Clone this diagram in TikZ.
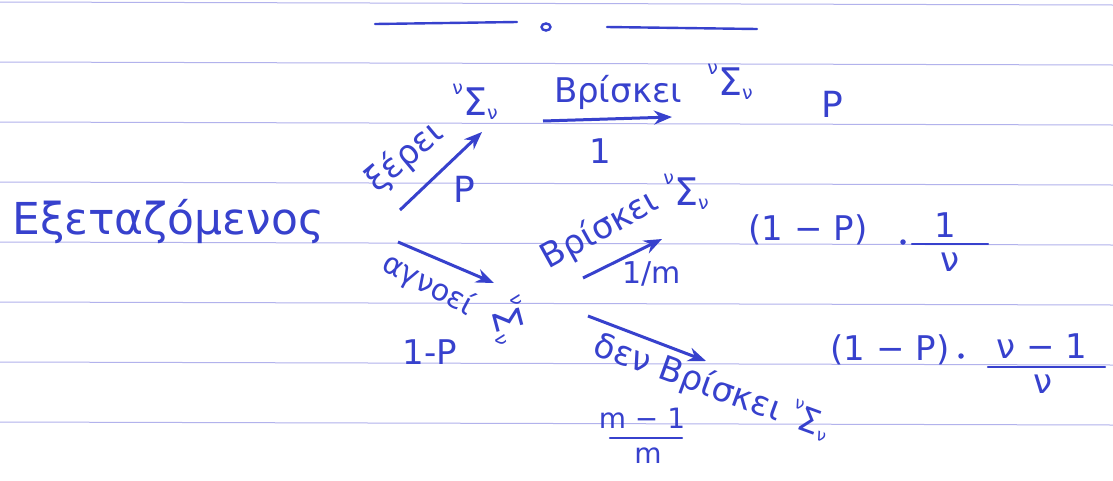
\documentclass[tikz,border=0pt]{standalone}
\usepackage{fontspec}
\setmainfont{DejaVu Sans}
\usetikzlibrary{arrows.meta,shapes.geometric}
\definecolor{ink}{RGB}{55,65,205}
\definecolor{paperrule}{RGB}{178,178,236}
\newcommand{\SigNu}{\raisebox{0.55em}{\scalebox{0.5}{ν}}Σ\raisebox{-0.1em}{\scalebox{0.5}{ν}}}
\begin{document}
\begin{tikzpicture}[x=1pt,y=-1pt,
  txt/.style={text=ink, inner sep=0pt, font=\fontsize{34}{36}\selectfont},
  sig/.style={text=ink, inner sep=0pt, font=\fontsize{38}{40}\selectfont},
  big/.style={text=ink, inner sep=0pt, font=\fontsize{44}{48}\selectfont},
  arr/.style={draw=ink, line width=3pt, -{Stealth[length=18pt,width=14pt]}},
  pen/.style={draw=ink, line width=2.4pt, line cap=round},
  times/.style={fill=ink, circle, inner sep=0pt, minimum size=5.5pt},
  ruling/.style={draw=paperrule, line width=1pt}]
\fill[white] (0,0) rectangle (1113,480);
\useasboundingbox (0,0) rectangle (1113,480);
% paper ruling
\foreach \k in {0,...,7} {
  \draw[ruling] (0,{2+60*\k}) -- (1113,{5+60*\k});
}
% heading marks
\coordinate (h1a) at (375,24); \coordinate (h1b) at (517,22);
\coordinate (h2a) at (607,27); \coordinate (h2b) at (757,29);
\draw[pen] (h1a) -- (h1b);
\draw[pen] (h2a) -- (h2b);
\node[draw=ink, line width=2.4pt, ellipse, minimum width=9pt, minimum height=7pt, inner sep=0pt] (hdot) at (546,27) {};
% root
\node[big] (root) at (168,222) {Εξεταζόμενος};
% branch: knows
\coordinate (k0) at (400,210); \coordinate (k1) at (482,132);
\draw[arr] (k0) -- (k1);
\node[txt, rotate=40] (knows) at (405,157) {ξέρει};
\node[sig] (knowsS) at (475,102) {\SigNu};
\node[txt, font=\fontsize{36}{38}\selectfont] (pk) at (464,189) {P};
% finds
\coordinate (f0) at (543,121); \coordinate (f1) at (672,117);
\draw[arr] (f0) -- (f1);
\node[txt] (finds) at (618,92) {Βρίσκει};
\node[sig] (findsS) at (730,82) {\SigNu};
\node[txt] (one) at (600,151) {1};
\node[txt, font=\fontsize{36}{38}\selectfont] (res1) at (832,104) {P};
% branch: does not know
\coordinate (u0) at (398,242); \coordinate (u1) at (494,283);
\draw[arr] (u0) -- (u1);
\node[txt, font=\fontsize{30}{32}\selectfont, rotate=-28] (ign) at (428,285) {αγνοεί};
\node[sig, rotate=-75] (ignS) at (508,320) {\SigNu};
\node[txt] (pu) at (430,352) {1-P};
% guessed right
\coordinate (g0) at (583,278); \coordinate (g1) at (662,239);
\draw[arr] (g0) -- (g1);
\node[txt, rotate=29] (guess) at (600,230) {Βρίσκει};
\node[sig] (guessS) at (686,192) {\SigNu};
\node[txt, font=\fontsize{30}{32}\selectfont] (pg) at (652,274) {1/m};
\node[txt] (res2a) at (808,230) {(1 − P)};
\node[times] (res2dot) at (903,242) {};
\node[txt] (res2n) at (945,225) {1};
\coordinate (r2l) at (912,244); \coordinate (r2r) at (988,244);
\draw[pen] (r2l) -- (r2r);
\node[txt] (res2d) at (950,262) {ν};
% guessed wrong
\coordinate (w0) at (588,316); \coordinate (w1) at (706,361);
\draw[arr] (w0) -- (w1);
\node[txt, rotate=-20] (wrong) at (712,387) {δεν Βρίσκει \SigNu};
\node[txt, font=\fontsize{28}{30}\selectfont] (pwn) at (642,418) {m − 1};
\coordinate (pwl) at (610,438); \coordinate (pwr) at (682,438);
\draw[pen] (pwl) -- (pwr);
\node[txt, font=\fontsize{28}{30}\selectfont] (pwd) at (648,456) {m};
\node[txt] (res3a) at (890,350) {(1 − P)};
\node[times] (res3dot) at (961,356) {};
\node[txt] (res3n) at (1042,346) {ν − 1};
\coordinate (r3l) at (988,367); \coordinate (r3r) at (1105,367);
\draw[pen] (r3l) -- (r3r);
\node[txt] (res3d) at (1043,384) {ν};
\end{tikzpicture}
\end{document}
